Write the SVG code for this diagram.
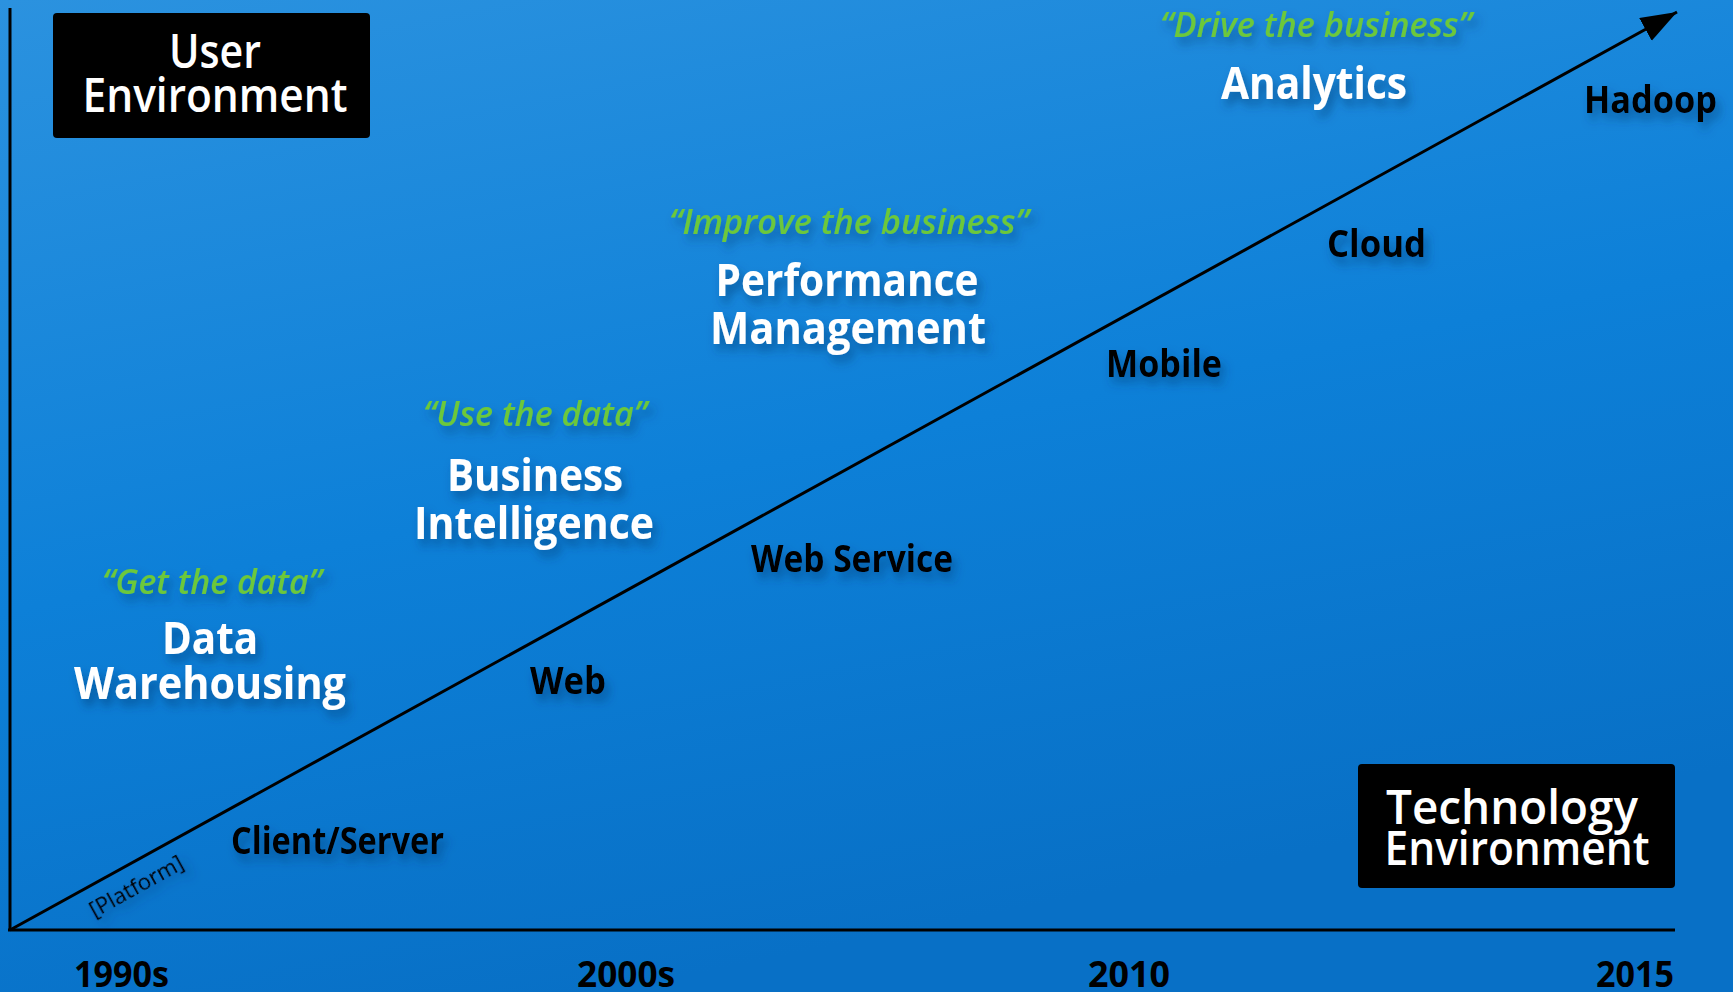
<svg xmlns="http://www.w3.org/2000/svg" width="1733" height="992" viewBox="0 0 1733 992">
<defs>
<linearGradient id="bg" x1="0" y1="0" x2="0.35" y2="1">
<stop offset="0" stop-color="#2b92df"/>
<stop offset="0.55" stop-color="#0d80d8"/>
<stop offset="1" stop-color="#0870c6"/>
</linearGradient>
<filter id="sh" x="-20%" y="-40%" width="140%" height="200%">
<feDropShadow dx="4" dy="7" stdDeviation="5" flood-color="#003a70" flood-opacity="0.55"/>
</filter>
<marker id="arr" markerUnits="userSpaceOnUse" markerWidth="40" markerHeight="30" refX="36" refY="13" orient="auto">
<path d="M0,0 L36,13 L0,26 Z" fill="#000"/>
</marker>
<style>
.box{fill:#000}
.bt{font-family:"Open Sans","Liberation Sans",sans-serif;font-weight:600;font-size:47px;fill:#fff;text-anchor:middle}
.ttl{font-family:"Open Sans","Liberation Sans",sans-serif;font-weight:700;font-size:44px;fill:#fff;text-anchor:middle}
.q{font-family:"Open Sans","Liberation Sans",sans-serif;font-weight:600;font-style:italic;font-size:34px;fill:#6cc83a;text-anchor:middle}
.lbl{font-family:"Open Sans","Liberation Sans",sans-serif;font-weight:700;font-size:37px;fill:#000}
.yr{font-family:"Open Sans","Liberation Sans",sans-serif;font-weight:700;font-size:36px;fill:#000}
.sm{font-family:"Open Sans","Liberation Sans",sans-serif;font-weight:400;font-size:22px;fill:#000;text-anchor:middle}
.ax{stroke:#000;stroke-width:3;fill:none}
</style>
</defs>
<rect width="1733" height="992" fill="url(#bg)"/>

<g id="connectors">
<line class="ax" x1="10" y1="8" x2="10" y2="931"/>
<line class="ax" x1="8" y1="930" x2="1675" y2="930"/>
<line class="ax" x1="10" y1="930" x2="1677" y2="12" marker-end="url(#arr)"/>
<text class="sm" transform="translate(140,893) rotate(-29)" filter="url(#sh)" textLength="104" lengthAdjust="spacingAndGlyphs">[Platform]</text>
</g>

<g id="user-env">
<rect class="box" x="53" y="13" width="317" height="125" rx="4"/>
<text class="bt" x="215" y="68" textLength="92" lengthAdjust="spacingAndGlyphs">User</text>
<text class="bt" x="215" y="112" textLength="265" lengthAdjust="spacingAndGlyphs">Environment</text>
</g>

<g id="tech-env">
<rect class="box" x="1358" y="764" width="317" height="124" rx="4"/>
<text class="bt" x="1512" y="824" textLength="252" lengthAdjust="spacingAndGlyphs">Technology</text>
<text class="bt" x="1517" y="865" textLength="265" lengthAdjust="spacingAndGlyphs">Environment</text>
</g>

<g id="data-warehousing" filter="url(#sh)">
<text class="q" x="212" y="594" textLength="220" lengthAdjust="spacingAndGlyphs">“Get the data”</text>
<text class="ttl" x="210" y="654" textLength="96" lengthAdjust="spacingAndGlyphs">Data</text>
<text class="ttl" x="210" y="699" textLength="272" lengthAdjust="spacingAndGlyphs">Warehousing</text>
</g>

<g id="business-intelligence" filter="url(#sh)">
<text class="q" x="535" y="426" textLength="224" lengthAdjust="spacingAndGlyphs">“Use the data”</text>
<text class="ttl" x="535" y="491" textLength="176" lengthAdjust="spacingAndGlyphs">Business</text>
<text class="ttl" x="534" y="539" textLength="240" lengthAdjust="spacingAndGlyphs">Intelligence</text>
</g>

<g id="performance-management" filter="url(#sh)">
<text class="q" x="849" y="234" textLength="360" lengthAdjust="spacingAndGlyphs">“Improve the business”</text>
<text class="ttl" x="847" y="296" textLength="263" lengthAdjust="spacingAndGlyphs">Performance</text>
<text class="ttl" x="848" y="344" textLength="276" lengthAdjust="spacingAndGlyphs">Management</text>
</g>

<g id="analytics" filter="url(#sh)">
<text class="q" x="1316" y="37" textLength="312" lengthAdjust="spacingAndGlyphs">“Drive the business”</text>
<text class="ttl" x="1314" y="99" textLength="186" lengthAdjust="spacingAndGlyphs">Analytics</text>
</g>

<g id="client-server" filter="url(#sh)"><text class="lbl" x="231" y="854" textLength="213" lengthAdjust="spacingAndGlyphs">Client/Server</text></g>
<g id="web" filter="url(#sh)"><text class="lbl" x="530" y="694" textLength="76" lengthAdjust="spacingAndGlyphs">Web</text></g>
<g id="web-service" filter="url(#sh)"><text class="lbl" x="751" y="572" textLength="202" lengthAdjust="spacingAndGlyphs">Web Service</text></g>
<g id="mobile" filter="url(#sh)"><text class="lbl" x="1106" y="377" textLength="116" lengthAdjust="spacingAndGlyphs">Mobile</text></g>
<g id="cloud" filter="url(#sh)"><text class="lbl" x="1327" y="257" textLength="99" lengthAdjust="spacingAndGlyphs">Cloud</text></g>
<g id="hadoop" filter="url(#sh)"><text class="lbl" x="1584" y="113" textLength="133" lengthAdjust="spacingAndGlyphs">Hadoop</text></g>

<g id="years">
<text class="yr" x="74" y="987" textLength="95" lengthAdjust="spacingAndGlyphs">1990s</text>
<text class="yr" x="577" y="987" textLength="98" lengthAdjust="spacingAndGlyphs">2000s</text>
<text class="yr" x="1088" y="987" textLength="82" lengthAdjust="spacingAndGlyphs">2010</text>
<text class="yr" x="1596" y="987" textLength="78" lengthAdjust="spacingAndGlyphs">2015</text>
</g>
</svg>
